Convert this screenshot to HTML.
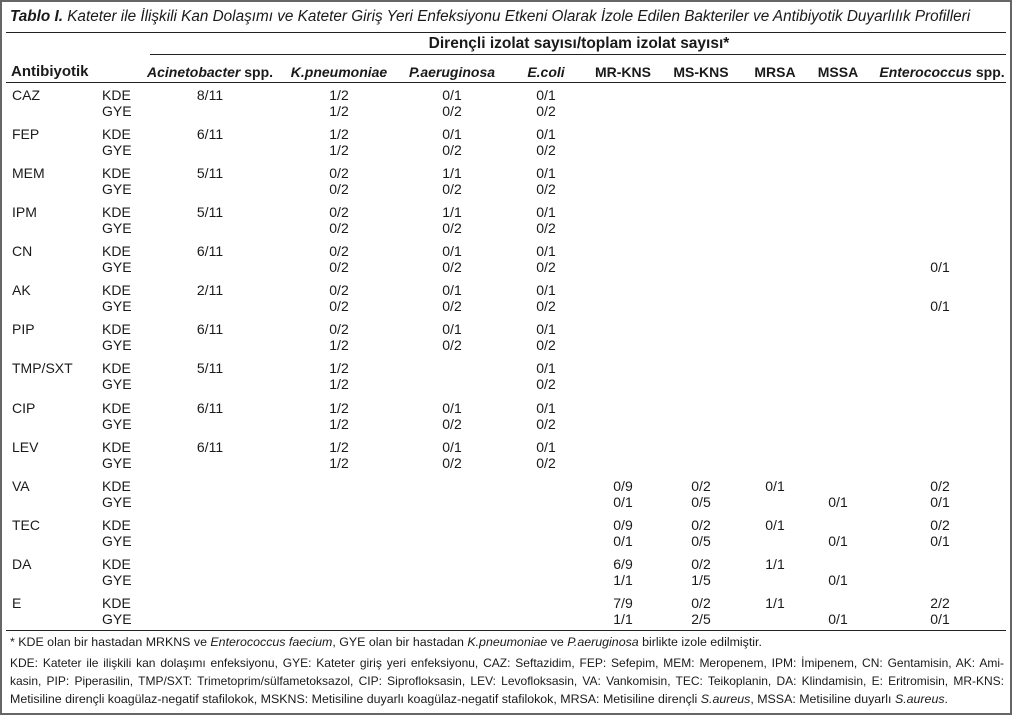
<!DOCTYPE html>
<html><head><meta charset="utf-8"><style>
html,body{margin:0;padding:0;background:#fff}
#p{position:relative;width:1012px;height:715px;overflow:hidden;font-family:"Liberation Sans",sans-serif;color:#1a1a1a;box-sizing:border-box;border:2px solid #666}
.t{position:absolute;white-space:nowrap;font-size:14px;line-height:16px}
.c{transform:translateX(-50%)}
.h{position:absolute;height:1px;background:#222}
.b{font-weight:bold}
i{font-style:italic}
.f{position:absolute;left:8px;width:994px;font-size:12.4px;line-height:16px;white-space:nowrap}
.j{text-align:justify;text-align-last:justify;white-space:normal;font-size:12px;height:16px;overflow:visible}
</style></head><body><div id="p">
<div class="t" style="left:8px;top:7px;font-style:italic;font-size:15.3px"><b>Tablo I.</b> Kateter ile İlişkili Kan Dolaşımı ve Kateter Giriş Yeri Enfeksiyonu Etkeni Olarak İzole Edilen Bakteriler ve Antibiyotik Duyarlılık Profilleri</div>
<div class="h" style="left:4px;width:1000px;top:30px"></div>
<div class="t b c" style="left:577px;top:34px;font-size:15.5px">Dirençli izolat sayısı/toplam izolat sayısı*</div>
<div class="h" style="left:148px;width:856px;top:52px"></div>
<div class="t b" style="left:9px;top:62px;font-size:15px">Antibiyotik</div>
<div class="t b c" style="left:208px;top:62px"><i>Acinetobacter</i> spp.</div>
<div class="t b c" style="left:337px;top:62px"><i>K.pneumoniae</i></div>
<div class="t b c" style="left:450px;top:62px"><i>P.aeruginosa</i></div>
<div class="t b c" style="left:544px;top:62px"><i>E.coli</i></div>
<div class="t b c" style="left:621px;top:62px">MR-KNS</div>
<div class="t b c" style="left:699px;top:62px">MS-KNS</div>
<div class="t b c" style="left:773px;top:62px">MRSA</div>
<div class="t b c" style="left:836px;top:62px">MSSA</div>
<div class="t b c" style="left:940px;top:62px"><i>Enterococcus</i> spp.</div>
<div class="h" style="left:4px;width:1000px;top:80px"></div>
<div class="h" style="left:4px;width:1000px;top:628px"></div>
<div class="f" style="top:632px">* KDE olan bir hastadan MRKNS ve <i>Enterococcus faecium</i>, GYE olan bir hastadan <i>K.pneumoniae</i> ve <i>P.aeruginosa</i> birlikte izole edilmiştir.</div>
<div class="f j" style="top:653px">KDE: Kateter ile ilişkili kan dolaşımı enfeksiyonu, GYE: Kateter giriş yeri enfeksiyonu, CAZ: Seftazidim, FEP: Sefepim, MEM: Meropenem, IPM: İmipenem, CN: Gentamisin, AK: Ami-</div>
<div class="f j" style="top:671px">kasin, PIP: Piperasilin, TMP/SXT: Trimetoprim/sülfametoksazol, CIP: Siprofloksasin, LEV: Levofloksasin, VA: Vankomisin, TEC: Teikoplanin, DA: Klindamisin, E: Eritromisin, MR-KNS:</div>
<div class="f" style="top:689px">Metisiline dirençli koagülaz-negatif stafilokok, MSKNS: Metisiline duyarlı koagülaz-negatif stafilokok, MRSA: Metisiline dirençli <i>S.aureus</i>, MSSA: Metisiline duyarlı <i>S.aureus</i>.</div>

<div class="t" style="left:10px;top:85px">CAZ</div><div class="t" style="left:100px;top:85px">KDE</div><div class="t" style="left:100px;top:101px">GYE</div>
<div class="t c" style="left:208px;top:85px">8/11</div><div class="t c" style="left:337px;top:85px">1/2</div><div class="t c" style="left:450px;top:85px">0/1</div><div class="t c" style="left:544px;top:85px">0/1</div>
<div class="t c" style="left:337px;top:101px">1/2</div><div class="t c" style="left:450px;top:101px">0/2</div><div class="t c" style="left:544px;top:101px">0/2</div>

<div class="t" style="left:10px;top:124px">FEP</div><div class="t" style="left:100px;top:124px">KDE</div><div class="t" style="left:100px;top:140px">GYE</div>
<div class="t c" style="left:208px;top:124px">6/11</div><div class="t c" style="left:337px;top:124px">1/2</div><div class="t c" style="left:450px;top:124px">0/1</div><div class="t c" style="left:544px;top:124px">0/1</div>
<div class="t c" style="left:337px;top:140px">1/2</div><div class="t c" style="left:450px;top:140px">0/2</div><div class="t c" style="left:544px;top:140px">0/2</div>

<div class="t" style="left:10px;top:163px">MEM</div><div class="t" style="left:100px;top:163px">KDE</div><div class="t" style="left:100px;top:179px">GYE</div>
<div class="t c" style="left:208px;top:163px">5/11</div><div class="t c" style="left:337px;top:163px">0/2</div><div class="t c" style="left:450px;top:163px">1/1</div><div class="t c" style="left:544px;top:163px">0/1</div>
<div class="t c" style="left:337px;top:179px">0/2</div><div class="t c" style="left:450px;top:179px">0/2</div><div class="t c" style="left:544px;top:179px">0/2</div>

<div class="t" style="left:10px;top:202px">IPM</div><div class="t" style="left:100px;top:202px">KDE</div><div class="t" style="left:100px;top:218px">GYE</div>
<div class="t c" style="left:208px;top:202px">5/11</div><div class="t c" style="left:337px;top:202px">0/2</div><div class="t c" style="left:450px;top:202px">1/1</div><div class="t c" style="left:544px;top:202px">0/1</div>
<div class="t c" style="left:337px;top:218px">0/2</div><div class="t c" style="left:450px;top:218px">0/2</div><div class="t c" style="left:544px;top:218px">0/2</div>

<div class="t" style="left:10px;top:241px">CN</div><div class="t" style="left:100px;top:241px">KDE</div><div class="t" style="left:100px;top:257px">GYE</div>
<div class="t c" style="left:208px;top:241px">6/11</div><div class="t c" style="left:337px;top:241px">0/2</div><div class="t c" style="left:450px;top:241px">0/1</div><div class="t c" style="left:544px;top:241px">0/1</div>
<div class="t c" style="left:337px;top:257px">0/2</div><div class="t c" style="left:450px;top:257px">0/2</div><div class="t c" style="left:544px;top:257px">0/2</div><div class="t c" style="left:938px;top:257px">0/1</div>

<div class="t" style="left:10px;top:280px">AK</div><div class="t" style="left:100px;top:280px">KDE</div><div class="t" style="left:100px;top:296px">GYE</div>
<div class="t c" style="left:208px;top:280px">2/11</div><div class="t c" style="left:337px;top:280px">0/2</div><div class="t c" style="left:450px;top:280px">0/1</div><div class="t c" style="left:544px;top:280px">0/1</div>
<div class="t c" style="left:337px;top:296px">0/2</div><div class="t c" style="left:450px;top:296px">0/2</div><div class="t c" style="left:544px;top:296px">0/2</div><div class="t c" style="left:938px;top:296px">0/1</div>

<div class="t" style="left:10px;top:319px">PIP</div><div class="t" style="left:100px;top:319px">KDE</div><div class="t" style="left:100px;top:335px">GYE</div>
<div class="t c" style="left:208px;top:319px">6/11</div><div class="t c" style="left:337px;top:319px">0/2</div><div class="t c" style="left:450px;top:319px">0/1</div><div class="t c" style="left:544px;top:319px">0/1</div>
<div class="t c" style="left:337px;top:335px">1/2</div><div class="t c" style="left:450px;top:335px">0/2</div><div class="t c" style="left:544px;top:335px">0/2</div>

<div class="t" style="left:10px;top:358px">TMP/SXT</div><div class="t" style="left:100px;top:358px">KDE</div><div class="t" style="left:100px;top:374px">GYE</div>
<div class="t c" style="left:208px;top:358px">5/11</div><div class="t c" style="left:337px;top:358px">1/2</div><div class="t c" style="left:544px;top:358px">0/1</div>
<div class="t c" style="left:337px;top:374px">1/2</div><div class="t c" style="left:544px;top:374px">0/2</div>

<div class="t" style="left:10px;top:398px">CIP</div><div class="t" style="left:100px;top:398px">KDE</div><div class="t" style="left:100px;top:414px">GYE</div>
<div class="t c" style="left:208px;top:398px">6/11</div><div class="t c" style="left:337px;top:398px">1/2</div><div class="t c" style="left:450px;top:398px">0/1</div><div class="t c" style="left:544px;top:398px">0/1</div>
<div class="t c" style="left:337px;top:414px">1/2</div><div class="t c" style="left:450px;top:414px">0/2</div><div class="t c" style="left:544px;top:414px">0/2</div>

<div class="t" style="left:10px;top:437px">LEV</div><div class="t" style="left:100px;top:437px">KDE</div><div class="t" style="left:100px;top:453px">GYE</div>
<div class="t c" style="left:208px;top:437px">6/11</div><div class="t c" style="left:337px;top:437px">1/2</div><div class="t c" style="left:450px;top:437px">0/1</div><div class="t c" style="left:544px;top:437px">0/1</div>
<div class="t c" style="left:337px;top:453px">1/2</div><div class="t c" style="left:450px;top:453px">0/2</div><div class="t c" style="left:544px;top:453px">0/2</div>

<div class="t" style="left:10px;top:476px">VA</div><div class="t" style="left:100px;top:476px">KDE</div><div class="t" style="left:100px;top:492px">GYE</div>
<div class="t c" style="left:621px;top:476px">0/9</div><div class="t c" style="left:699px;top:476px">0/2</div><div class="t c" style="left:773px;top:476px">0/1</div><div class="t c" style="left:938px;top:476px">0/2</div>
<div class="t c" style="left:621px;top:492px">0/1</div><div class="t c" style="left:699px;top:492px">0/5</div><div class="t c" style="left:836px;top:492px">0/1</div><div class="t c" style="left:938px;top:492px">0/1</div>

<div class="t" style="left:10px;top:515px">TEC</div><div class="t" style="left:100px;top:515px">KDE</div><div class="t" style="left:100px;top:531px">GYE</div>
<div class="t c" style="left:621px;top:515px">0/9</div><div class="t c" style="left:699px;top:515px">0/2</div><div class="t c" style="left:773px;top:515px">0/1</div><div class="t c" style="left:938px;top:515px">0/2</div>
<div class="t c" style="left:621px;top:531px">0/1</div><div class="t c" style="left:699px;top:531px">0/5</div><div class="t c" style="left:836px;top:531px">0/1</div><div class="t c" style="left:938px;top:531px">0/1</div>

<div class="t" style="left:10px;top:554px">DA</div><div class="t" style="left:100px;top:554px">KDE</div><div class="t" style="left:100px;top:570px">GYE</div>
<div class="t c" style="left:621px;top:554px">6/9</div><div class="t c" style="left:699px;top:554px">0/2</div><div class="t c" style="left:773px;top:554px">1/1</div>
<div class="t c" style="left:621px;top:570px">1/1</div><div class="t c" style="left:699px;top:570px">1/5</div><div class="t c" style="left:836px;top:570px">0/1</div>

<div class="t" style="left:10px;top:593px">E</div><div class="t" style="left:100px;top:593px">KDE</div><div class="t" style="left:100px;top:609px">GYE</div>
<div class="t c" style="left:621px;top:593px">7/9</div><div class="t c" style="left:699px;top:593px">0/2</div><div class="t c" style="left:773px;top:593px">1/1</div><div class="t c" style="left:938px;top:593px">2/2</div>
<div class="t c" style="left:621px;top:609px">1/1</div><div class="t c" style="left:699px;top:609px">2/5</div><div class="t c" style="left:836px;top:609px">0/1</div><div class="t c" style="left:938px;top:609px">0/1</div>
</div></body></html>
